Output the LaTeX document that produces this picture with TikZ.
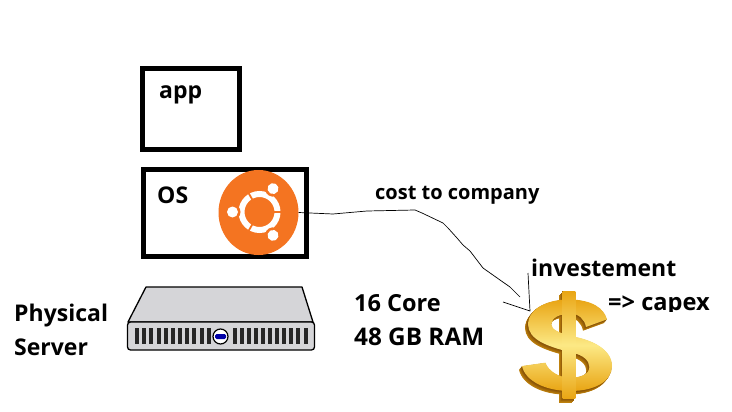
\documentclass[tikz,border=0pt]{standalone}
\usepackage{fontspec}
\setmainfont{Open Sans}
\usetikzlibrary{shapes.geometric}
\definecolor{ubuntuorange}{HTML}{F47421}
\definecolor{servergrey}{HTML}{D5D5D8}
\definecolor{coingold}{HTML}{E9A514}
\definecolor{coinlight}{HTML}{FCE985}
\definecolor{coindark}{HTML}{7E4A05}
\newcommand{\sdollarpath}{(285,115)
  .. controls (275,80) and (240,58) .. (175,55)
  .. controls (110,55) and (50,80) .. (48,130)
  .. controls (50,175) and (100,195) .. (180,215)
  .. controls (215,222) and (232,240) .. (232,258)
  .. controls (232,280) and (205,290) .. (175,290)
  .. controls (140,290) and (110,270) .. (100,245)
  -- (30,255)
  .. controls (40,300) and (100,330) .. (175,330)
  .. controls (250,330) and (300,300) .. (300,255)
  .. controls (300,205) and (240,175) .. (175,165)
  .. controls (140,155) and (118,145) .. (118,130)
  .. controls (118,110) and (145,98) .. (175,98)
  .. controls (200,98) and (218,115) .. (222,138) -- cycle}
\newcommand{\bardollarpath}{(152,30) -- (190,30) -- (190,353) -- (152,353) -- cycle}

\begin{document}
\begin{tikzpicture}[
  x=1pt, y=-1pt,
  every node/.style={inner sep=0pt},
  box/.style={draw=black, line width=5pt, fill=white, anchor=north west},
  label/.style={anchor=base west, text=black},
  small label/.style={label, font=\bfseries\fontsize{20}{22}\selectfont},
  big label/.style={label, font=\bfseries\fontsize{23}{25}\selectfont},
  wide label/.style={label, font=\bfseries\fontsize{24.3}{26}\selectfont},
  wire/.style={draw=black, line width=0.7pt},
  faceshade/.style={top color=coingold, bottom color=coingold, middle color=coinlight}
]
\useasboundingbox (0,0) rectangle (732,412);

% boxes
\node[box, minimum width=97pt, minimum height=81.5pt] (appbox) at (140,66) {};
\node[box, minimum width=163pt, minimum height=87pt] (osbox) at (141,167) {};
\node[big label] (app) at (159,99) {app};
\node[big label] (os) at (157,203) {OS};

% ubuntu logo
\node[ellipse, fill=ubuntuorange, minimum width=80pt, minimum height=85pt] (logo) at (258.5,212.5) {};
\draw[white, line width=6pt] (259.5,212) circle (18);
\foreach \a in {0,120,240}
  \draw[ubuntuorange, line width=1.8pt, rotate around={\a:(259.5,212)}] (259.5,212) -- (283,212);
\foreach \a in {60,180,300} {
  \fill[ubuntuorange, rotate around={\a:(259.5,212)}] (286.5,212) circle (8);
  \fill[white, rotate around={\a:(259.5,212)}] (286.5,212) circle (5.5);
}

% server
\draw[black, line width=1.3pt, fill=servergrey, line join=round] (146,287) -- (302,287) -- (313,322) -- (128,322) -- cycle;
\draw[black, line width=1.3pt, fill=servergrey, rounded corners=3pt] (127.5,322) rectangle (314.5,350);
\foreach \x in {0,...,10} {
  \fill[black!85] (135+7.17*\x,328) rectangle ++(4,16);
  \fill[black!85] (233+7.05*\x,328) rectangle ++(4,16);
}
\node[circle, draw=black, line width=1.2pt, fill=white, minimum size=15pt] (emblem) at (220.5,336.5) {};
\fill[blue!65!black, rounded corners=1.5pt] (215,334) rectangle (226,339);

% dollar
\begin{scope}[shift={(512,281)}, scale=1/3]
  \foreach \d in {10,9,...,1} {
    \fill[coindark!\the\numexpr 100-6*\d\relax!coingold, shift={(-0.9*\d,1.1*\d)}] \sdollarpath;
    \fill[coindark!\the\numexpr 100-6*\d\relax!coingold, shift={(-1*\d,1.2*\d)}] \bardollarpath;
  }
  \path[faceshade] \sdollarpath;
  \path[faceshade] \bardollarpath;
\end{scope}

% wire
\coordinate (invtop) at (528,273);
\coordinate (hit) at (530,311);
\coordinate (tailstub) at (503,302);
\coordinate (wireend) at (520,297);
\draw[wire] (logo.east) -- (333,214) -- (367,211) -- (415,210) -- (422,213) -- (443,223)
  -- (448,228) -- (457,238) -- (463,245) -- (470,251) -- (483,268) -- (500,280) -- (510,287) -- (wireend);
\draw[wire] (tailstub) -- (hit) -- (invtop);

% labels
\node[small label] (cost) at (375,200) {cost to company};
\node[big label] (invest) at (531,276) {investement};
\node[wide label, font=\bfseries\fontsize{23.6}{25}\selectfont] (capex) at (608,310) {=> capex};
\fill[white] (625,312) rectangle (715,320);
\node[wide label, font=\bfseries\fontsize{23.5}{25}\selectfont] (core) at (354,311) {16 Core};
\node[wide label] (ram) at (354,345) {48 GB RAM};
\node[big label] (physical) at (14,321) {Physical};
\node[big label] (server) at (14,355) {Server};
\end{tikzpicture}
\end{document}
